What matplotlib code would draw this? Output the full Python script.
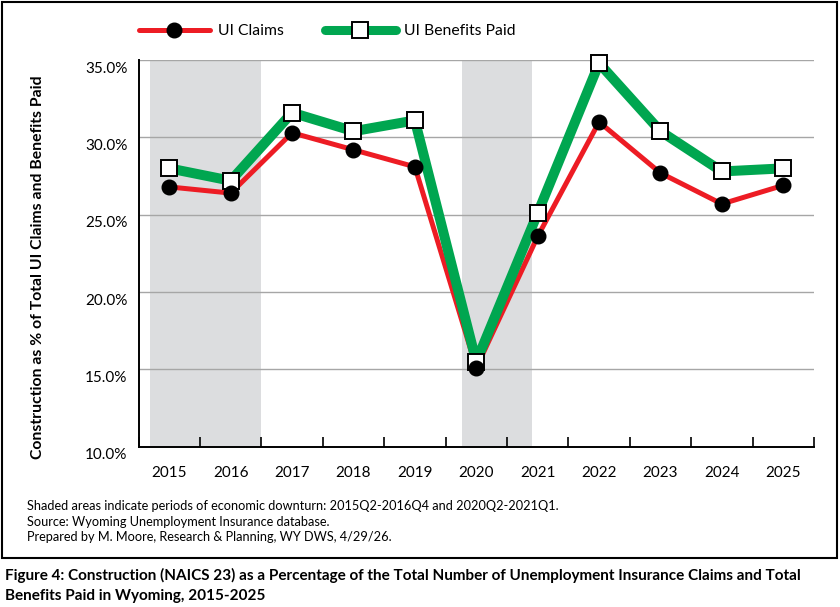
import matplotlib
matplotlib.use("Agg")
import matplotlib.pyplot as plt
import matplotlib.transforms as mtransforms
from matplotlib.patches import Rectangle
import numpy as np

plt.rcParams['font.family'] = ['Lato', 'DejaVu Sans']

years = ['2015', '2016', '2017', '2018', '2019', '2020', '2021', '2022', '2023', '2024', '2025']
ui_claims = [26.8, 26.4, 30.3, 29.2, 28.1, 15.1, 23.6, 31.0, 27.7, 25.7, 26.9]
ui_benefits = [28.0, 27.2, 31.6, 30.4, 31.1, 15.5, 25.1, 34.8, 30.4, 27.8, 28.0]
# downturn periods in category units (2015Q2-2016Q4, 2020Q2-2021Q1)
downturns = [(-0.31, 1.5), (4.77, 5.91)]
yticks = [10, 15, 20, 25, 30, 35]

red = '#ED1C24'
green = '#00A650'

fig = plt.figure(figsize=(8.4, 6.07), dpi=100)
ax = fig.add_axes([0.165, 0.264, 0.804, 0.637])

x = np.arange(len(years))

for start, end in downturns:
    ax.axvspan(start, end, color='#DCDDDF', lw=0, zorder=0)

for v in yticks[1:]:
    ax.axhline(v, color='#A6A6A6', lw=1.0, zorder=1)

ax.plot(x, ui_claims, color=red, lw=3.6, zorder=3, solid_joinstyle='round', clip_on=False)
ax.plot(x, ui_benefits, color=green, lw=7.2, zorder=4, solid_joinstyle='round', clip_on=False)
ax.plot(x, ui_benefits, ls='none', marker='s', ms=12, mfc='white', mec='black',
        mew=1.4, zorder=5, clip_on=False)
ax.plot(x, ui_claims, ls='none', marker='o', ms=10.5, mfc='black', mec='black', zorder=6,
        clip_on=False)

# legend handles
h1, = ax.plot([], [], color=red, lw=3.6, marker='o', ms=10.5, mfc='black', mec='black',
              solid_capstyle='round')
h2, = ax.plot([], [], color=green, lw=6.5, marker='s', ms=12, mfc='white', mec='black',
              mew=1.4, solid_capstyle='round')
fig.legend([h1, h2], ['UI Claims', 'UI Benefits Paid'], loc='center left',
           bbox_to_anchor=(0.158, 1 - 31 / 607), ncol=2, frameon=False, fontsize=11.3,
           handlelength=4.5, handletextpad=0.55, columnspacing=2.6, borderaxespad=0)

ax.set_xlim(-0.5, len(years) - 0.5)
ax.set_ylim(10, 35)
ax.set_yticks(yticks)
ax.set_yticklabels(['%.1f%%' % v for v in yticks], fontsize=11)
ax.set_xticks(x)
ax.set_xticklabels(years, fontsize=11)
ax.set_xticks(np.arange(-0.5, len(years), 1.0), minor=True)
ax.tick_params(axis='x', which='major', length=0, pad=14)
ax.tick_params(axis='x', which='minor', direction='in', length=7.5, width=1.2, color='black')
ax.tick_params(axis='y', length=0, pad=8)

offset = mtransforms.ScaledTranslation(0, -7 / 100, fig.dpi_scale_trans)
for lab in ax.get_yticklabels():
    lab.set_transform(lab.get_transform() + offset)

for s in ['top', 'right']:
    ax.spines[s].set_visible(False)
ax.spines['left'].set_linewidth(1.4)
ax.spines['bottom'].set_linewidth(1.4)

fig.text(38 / 840, 1 - 267 / 607, 'Construction as % of Total UI Claims and Benefits Paid',
         rotation=90, ha='center', va='center', fontsize=11.3, fontweight='bold')

notes = ['Shaded areas indicate periods of economic downturn: 2015Q2-2016Q4 and 2020Q2-2021Q1.',
         'Source: Wyoming Unemployment Insurance database.',
         'Prepared by M. Moore, Research & Planning, WY DWS, 4/29/26.']
for i, line in enumerate(notes):
    fig.text(27 / 840, 1 - (506 + 15.7 * i) / 607, line, ha='left', va='center', fontsize=9.2)

caption = ['Figure 4: Construction (NAICS 23) as a Percentage of the Total Number of Unemployment Insurance Claims and Total',
           'Benefits Paid in Wyoming, 2015-2025']
for i, line in enumerate(caption):
    fig.text(5 / 840, 1 - (575 + 21 * i) / 607, line, ha='left', va='center', fontsize=11,
             fontweight='bold')

fig.patches.append(Rectangle((2 / 840, 1 - 558 / 607), 835 / 840, 556 / 607,
                             transform=fig.transFigure, fill=False, ec='black', lw=1.5))

fig.savefig('out.png', dpi=100)
